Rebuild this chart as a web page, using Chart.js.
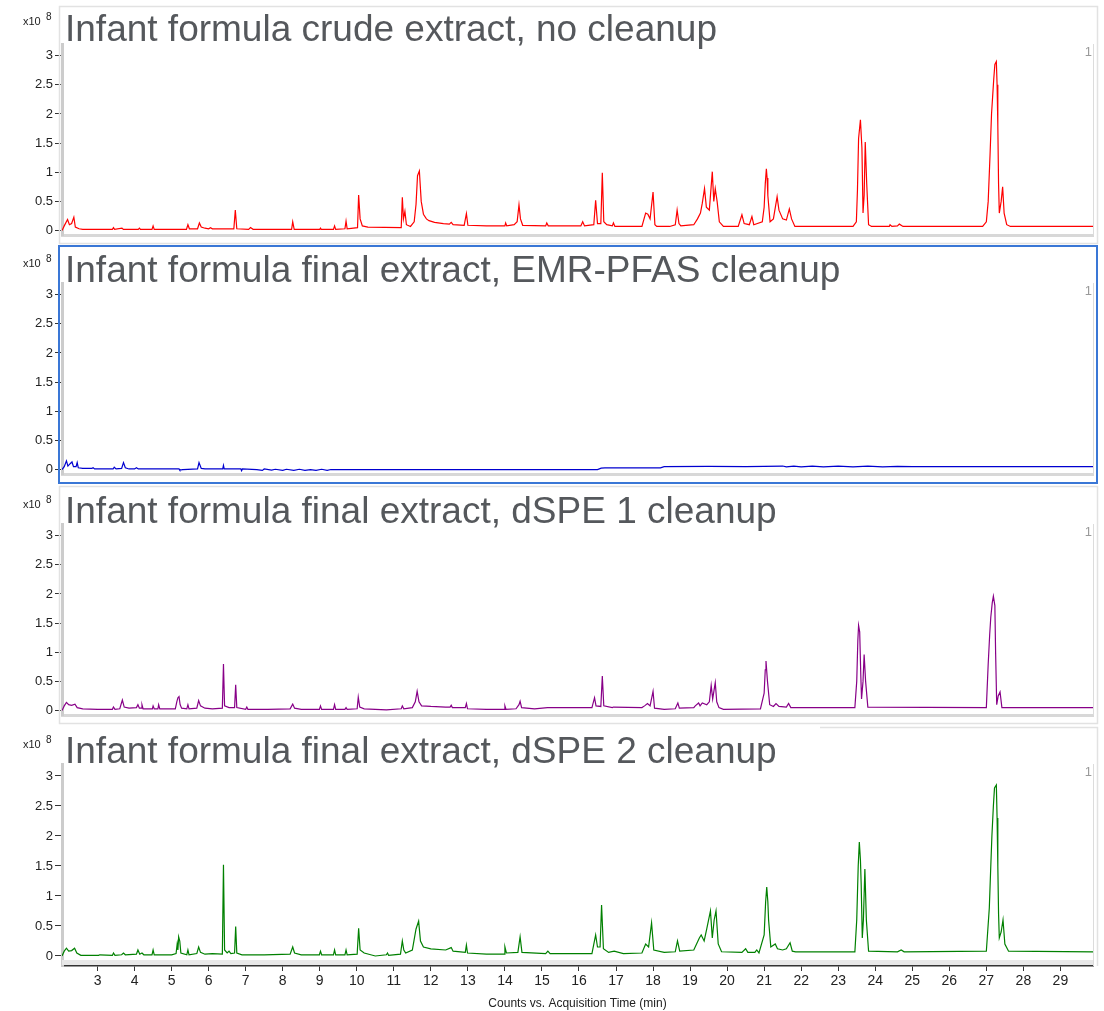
<!DOCTYPE html>
<html><head><meta charset="utf-8">
<script src="https://cdn.jsdelivr.net/npm/chart.js@4.4.0/dist/chart.umd.min.js"></script>
<style>
html,body{margin:0;padding:0;background:#fff;width:1104px;height:1011px;overflow:hidden;}
.pan{position:absolute;left:0;width:1104px;}
</style></head><body>
<div class="pan" style="top:0px;height:245px"><canvas id="c0"></canvas></div>
<div class="pan" style="top:239px;height:245px"><canvas id="c1"></canvas></div>
<div class="pan" style="top:480px;height:245px"><canvas id="c2"></canvas></div>
<div class="pan" style="top:720px;height:291px"><canvas id="c3"></canvas></div>
<script>
// ---- data (time in min, intensity in x10^8 counts) ----
const timeTicks = [3,4,5,6,7,8,9,10,11,12,13,14,15,16,17,18,19,20,21,22,23,24,25,26,27,28,29];
const intensityTicks = [0,0.5,1,1.5,2,2.5,3];
const panelTitles = [
  "Infant formula crude extract, no cleanup",
  "Infant formula final extract, EMR-PFAS cleanup",
  "Infant formula final extract, dSPE 1 cleanup",
  "Infant formula final extract, dSPE 2 cleanup"
];
const axisTitle = "Counts vs. Acquisition Time (min)";
const scaleLabel = "x10";
const scaleExp = "8";
const traceNo = "1";

const crude = [[2.04,0.0],[2.1,0.08],[2.19,0.19],[2.24,0.1],[2.3,0.12],[2.36,0.23],[2.4,0.06],[2.5,0.03],[2.6,0.02],[3.4,0.02],[3.43,0.05],[3.46,0.02],[3.66,0.04],[3.7,0.02],[4.1,0.02],[4.13,0.04],[4.16,0.02],[4.47,0.02],[4.5,0.08],[4.53,0.02],[5.4,0.02],[5.44,0.1],[5.48,0.03],[5.7,0.03],[5.75,0.13],[5.8,0.06],[5.9,0.04],[6.0,0.03],[6.05,0.05],[6.1,0.03],[6.68,0.03],[6.72,0.35],[6.76,0.03],[7.08,0.02],[7.13,0.05],[7.2,0.02],[8.24,0.02],[8.27,0.15],[8.31,0.02],[9.0,0.02],[9.02,0.04],[9.04,0.02],[9.37,0.02],[9.4,0.08],[9.43,0.02],[9.68,0.03],[9.71,0.16],[9.74,0.03],[10.02,0.05],[10.05,0.61],[10.09,0.2],[10.15,0.08],[10.3,0.06],[11.2,0.05],[11.23,0.57],[11.26,0.2],[11.3,0.33],[11.34,0.1],[11.45,0.07],[11.55,0.15],[11.6,0.45],[11.64,0.94],[11.69,1.02],[11.74,0.5],[11.8,0.28],[11.88,0.2],[11.95,0.17],[12.1,0.14],[12.34,0.12],[12.5,0.11],[12.55,0.14],[12.6,0.1],[12.9,0.09],[12.96,0.29],[13.0,0.09],[13.5,0.08],[14.0,0.08],[14.02,0.13],[14.05,0.08],[14.25,0.1],[14.33,0.15],[14.38,0.44],[14.42,0.2],[14.48,0.09],[15.1,0.08],[15.13,0.13],[15.17,0.08],[16.05,0.08],[16.1,0.15],[16.15,0.08],[16.4,0.1],[16.45,0.52],[16.5,0.12],[16.59,0.12],[16.63,0.99],[16.67,0.15],[16.75,0.1],[16.9,0.08],[16.93,0.13],[16.97,0.07],[17.7,0.07],[17.8,0.3],[17.86,0.28],[17.92,0.2],[18.0,0.66],[18.05,0.1],[18.1,0.07],[18.45,0.07],[18.6,0.1],[18.65,0.35],[18.7,0.12],[18.75,0.08],[19.1,0.1],[19.2,0.2],[19.28,0.3],[19.33,0.47],[19.39,0.72],[19.44,0.4],[19.52,0.35],[19.6,1.01],[19.64,0.5],[19.68,0.72],[19.73,0.5],[19.79,0.15],[19.9,0.07],[20.3,0.07],[20.4,0.27],[20.46,0.12],[20.6,0.1],[20.67,0.24],[20.72,0.1],[20.95,0.15],[21.0,0.4],[21.03,0.8],[21.06,1.06],[21.08,0.9],[21.1,0.6],[21.16,0.15],[21.25,0.2],[21.35,0.58],[21.4,0.35],[21.5,0.2],[21.6,0.18],[21.68,0.37],[21.74,0.2],[21.83,0.07],[23.4,0.07],[23.49,0.15],[23.52,0.7],[23.55,1.58],[23.6,1.9],[23.64,1.42],[23.67,0.3],[23.7,0.6],[23.73,1.52],[23.77,0.8],[23.82,0.1],[23.9,0.07],[24.38,0.07],[24.4,0.1],[24.45,0.07],[24.6,0.08],[24.65,0.11],[24.75,0.07],[26.9,0.07],[27.0,0.15],[27.05,0.5],[27.1,1.3],[27.14,2.0],[27.17,2.3],[27.2,2.6],[27.23,2.85],[27.27,2.9],[27.29,2.5],[27.31,1.8],[27.33,0.8],[27.35,0.3],[27.4,0.5],[27.44,0.75],[27.48,0.3],[27.55,0.1],[27.65,0.07],[29.9,0.07]];

const emr = [[2.04,0.0],[2.1,0.05],[2.16,0.15],[2.2,0.06],[2.26,0.1],[2.31,0.13],[2.35,0.05],[2.42,0.05],[2.45,0.12],[2.48,0.03],[2.6,0.02],[2.85,0.02],[2.88,0.03],[2.92,0.01],[3.42,0.01],[3.45,0.04],[3.5,0.01],[3.65,0.02],[3.7,0.12],[3.75,0.03],[3.85,0.01],[4.0,0.01],[4.05,0.03],[4.1,0.01],[5.2,0.01],[5.22,-0.01],[5.3,0.0],[5.7,0.01],[5.74,0.12],[5.8,0.02],[5.9,0.01],[6.38,0.01],[6.4,0.07],[6.42,0.01],[6.87,0.01],[6.89,-0.02],[6.91,0.01],[7.3,0.0],[7.45,-0.015],[7.5,0.01],[7.7,-0.01],[7.8,0.005],[8.0,-0.015],[8.1,0.005],[8.3,-0.015],[8.45,0.005],[8.6,-0.015],[8.75,0.0],[8.9,-0.015],[9.05,0.005],[9.2,-0.015],[9.3,0.0],[16.5,0.0],[16.6,0.025],[16.7,0.03],[18.2,0.03],[18.3,0.05],[19.5,0.055],[20.5,0.05],[21.5,0.06],[21.6,0.045],[21.8,0.06],[22.0,0.045],[22.3,0.06],[22.6,0.045],[23.0,0.06],[23.4,0.045],[23.8,0.06],[24.2,0.045],[24.6,0.055],[25.0,0.05],[29.9,0.05]];

const dspe1 = [[2.04,0.0],[2.1,0.08],[2.16,0.14],[2.22,0.1],[2.3,0.09],[2.39,0.11],[2.45,0.05],[2.6,0.03],[3.0,0.02],[3.4,0.02],[3.43,0.06],[3.47,0.02],[3.6,0.03],[3.67,0.18],[3.72,0.06],[3.85,0.04],[4.05,0.05],[4.09,0.1],[4.13,0.04],[4.18,0.04],[4.2,0.1],[4.23,0.03],[4.48,0.03],[4.5,0.08],[4.53,0.03],[4.63,0.03],[4.65,0.1],[4.68,0.03],[5.1,0.03],[5.14,0.15],[5.17,0.22],[5.2,0.24],[5.23,0.1],[5.27,0.04],[5.41,0.03],[5.44,0.1],[5.47,0.03],[5.68,0.04],[5.73,0.17],[5.78,0.08],[5.9,0.04],[6.1,0.03],[6.37,0.04],[6.4,0.8],[6.43,0.08],[6.55,0.05],[6.7,0.05],[6.73,0.44],[6.76,0.05],[7.0,0.02],[7.03,0.06],[7.06,0.02],[7.6,0.02],[8.2,0.03],[8.27,0.11],[8.32,0.04],[8.5,0.02],[8.99,0.02],[9.02,0.08],[9.05,0.02],[9.37,0.02],[9.4,0.1],[9.43,0.02],[9.68,0.02],[9.71,0.05],[9.74,0.02],[10.01,0.03],[10.04,0.23],[10.08,0.06],[10.2,0.03],[10.8,0.01],[11.2,0.03],[11.23,0.08],[11.27,0.03],[11.5,0.05],[11.58,0.15],[11.63,0.33],[11.68,0.15],[11.75,0.08],[12.0,0.07],[12.4,0.06],[12.52,0.06],[12.55,0.09],[12.58,0.05],[12.93,0.05],[12.96,0.12],[12.99,0.03],[13.5,0.02],[13.98,0.02],[14.0,0.08],[14.03,0.02],[14.3,0.03],[14.38,0.1],[14.41,0.16],[14.45,0.05],[14.8,0.03],[15.15,0.05],[16.35,0.05],[16.42,0.22],[16.46,0.08],[16.59,0.07],[16.63,0.59],[16.67,0.08],[16.9,0.05],[16.93,0.06],[17.7,0.05],[17.77,0.08],[17.85,0.12],[17.92,0.08],[18.0,0.33],[18.04,0.04],[18.3,0.02],[18.6,0.03],[18.67,0.13],[18.71,0.04],[19.1,0.05],[19.14,0.08],[19.23,0.13],[19.27,0.08],[19.33,0.13],[19.45,0.1],[19.52,0.15],[19.57,0.43],[19.61,0.2],[19.68,0.48],[19.72,0.15],[19.78,0.05],[19.9,0.02],[20.9,0.03],[21.0,0.3],[21.03,0.7],[21.05,0.85],[21.09,0.5],[21.15,0.1],[21.25,0.07],[21.32,0.12],[21.4,0.07],[21.6,0.06],[21.66,0.12],[21.72,0.05],[23.45,0.05],[23.5,0.5],[23.53,1.2],[23.55,1.46],[23.58,1.35],[23.61,0.6],[23.63,0.2],[23.67,0.5],[23.7,0.96],[23.74,0.5],[23.8,0.06],[27.0,0.05],[27.05,0.8],[27.09,1.3],[27.12,1.6],[27.16,1.85],[27.19,1.96],[27.23,1.8],[27.25,1.0],[27.28,0.1],[27.32,0.25],[27.37,0.32],[27.42,0.05],[29.9,0.05]];

const dspe2 = [[2.04,0.0],[2.1,0.08],[2.16,0.13],[2.22,0.08],[2.3,0.09],[2.38,0.13],[2.44,0.05],[2.55,0.01],[3.03,0.01],[3.06,0.02],[3.4,0.01],[3.43,0.05],[3.47,0.01],[3.65,0.02],[3.7,0.05],[3.75,0.02],[4.05,0.03],[4.09,0.1],[4.14,0.03],[4.2,0.05],[4.25,0.02],[4.47,0.02],[4.5,0.1],[4.53,0.02],[5.0,0.02],[5.12,0.04],[5.15,0.2],[5.17,0.1],[5.19,0.32],[5.22,0.25],[5.25,0.05],[5.41,0.02],[5.44,0.1],[5.47,0.02],[5.68,0.04],[5.73,0.15],[5.78,0.06],[5.9,0.03],[6.1,0.04],[6.37,0.03],[6.4,1.52],[6.43,0.1],[6.5,0.05],[6.55,0.08],[6.6,0.04],[6.7,0.05],[6.73,0.49],[6.76,0.05],[6.9,0.02],[7.5,0.02],[8.2,0.03],[8.27,0.15],[8.32,0.05],[8.5,0.02],[8.99,0.02],[9.02,0.08],[9.05,0.02],[9.37,0.02],[9.4,0.1],[9.43,0.02],[9.68,0.02],[9.71,0.1],[9.74,0.02],[10.01,0.03],[10.05,0.46],[10.09,0.1],[10.2,0.05],[10.5,0.0],[10.8,0.02],[10.83,0.05],[10.86,0.01],[11.18,0.03],[11.23,0.25],[11.27,0.1],[11.32,0.05],[11.5,0.1],[11.6,0.45],[11.67,0.58],[11.72,0.25],[11.8,0.15],[12.0,0.12],[12.4,0.1],[12.55,0.14],[12.6,0.08],[12.93,0.06],[12.96,0.18],[12.99,0.05],[13.5,0.03],[13.98,0.03],[14.0,0.15],[14.04,0.05],[14.35,0.06],[14.41,0.32],[14.46,0.06],[15.1,0.04],[15.16,0.08],[15.22,0.04],[16.35,0.04],[16.45,0.35],[16.5,0.15],[16.57,0.15],[16.61,0.85],[16.66,0.12],[16.8,0.06],[16.95,0.08],[17.2,0.04],[17.7,0.05],[17.8,0.2],[17.88,0.15],[17.96,0.55],[18.02,0.1],[18.3,0.06],[18.6,0.07],[18.66,0.25],[18.72,0.08],[19.1,0.1],[19.25,0.3],[19.3,0.35],[19.38,0.25],[19.45,0.45],[19.55,0.75],[19.6,0.3],[19.65,0.6],[19.7,0.75],[19.76,0.2],[19.85,0.07],[20.4,0.06],[20.5,0.12],[20.56,0.06],[20.75,0.06],[20.8,0.1],[20.86,0.05],[21.0,0.35],[21.04,0.9],[21.07,1.15],[21.1,0.9],[21.12,0.6],[21.18,0.15],[21.3,0.2],[21.36,0.12],[21.5,0.1],[21.6,0.12],[21.7,0.22],[21.76,0.08],[21.85,0.07],[23.45,0.07],[23.5,0.6],[23.54,1.5],[23.57,1.9],[23.6,1.6],[23.62,1.2],[23.65,0.3],[23.68,0.6],[23.72,1.45],[23.76,0.6],[23.82,0.08],[24.6,0.07],[24.7,0.1],[24.78,0.07],[27.0,0.08],[27.08,0.8],[27.12,1.5],[27.15,2.0],[27.19,2.5],[27.22,2.8],[27.27,2.85],[27.29,2.3],[27.31,1.5],[27.33,0.7],[27.35,0.3],[27.4,0.4],[27.45,0.6],[27.5,0.2],[27.6,0.08],[29.9,0.07]];

const seriesList = [crude, emr, dspe1, dspe2];
const seriesColors = ["#ff0000", "#0000d0", "#880088", "#008000"];

// ---- styling / layout ----
const NARROW = "'Liberation Sans Narrow','Liberation Sans',Arial,sans-serif";
const SANS = "'Liberation Sans',Arial,sans-serif";

const decoPlugin = {
  id: 'deco',
  afterDraw(chart, args, opts) {
    const ctx = chart.ctx, ca = chart.chartArea;
    ctx.save();
    if (opts.frame === 'blue') {
      ctx.strokeStyle = '#3a77d6'; ctx.lineWidth = 2;
      ctx.strokeRect(59, 7, 1038, 237);
    } else if (opts.frame === 'gray') {
      ctx.strokeStyle = '#e2e2e2'; ctx.lineWidth = 1.5;
      ctx.strokeRect(59.5, 6.5, 1038, 237);
    } else if (opts.frame === 'last') {
      ctx.strokeStyle = '#e2e2e2'; ctx.lineWidth = 1.5;
      ctx.beginPath(); ctx.moveTo(820, 7.5); ctx.lineTo(1097.5, 7.5); ctx.lineTo(1097.5, ca.bottom); ctx.stroke();
    }
    ctx.strokeStyle = '#dcdcdc'; ctx.lineWidth = 1;
    ctx.beginPath(); ctx.moveTo(ca.right + 0.5, ca.top); ctx.lineTo(ca.right + 0.5, ca.bottom); ctx.stroke();
    if (opts.band) {
      ctx.fillStyle = '#e8e8e8';
      ctx.fillRect(ca.left, ca.bottom - 6, ca.right - ca.left, 5);
    }
    ctx.fillStyle = '#55585c';
    ctx.font = '37px ' + SANS;
    ctx.textBaseline = 'alphabetic'; ctx.textAlign = 'left';
    ctx.fillText(opts.title, 65, opts.titleY);
    ctx.fillStyle = '#222';
    ctx.font = '11px ' + NARROW;
    ctx.fillText(scaleLabel, 23, opts.expY);
    ctx.font = '10px ' + NARROW;
    ctx.fillText(scaleExp, 46, opts.expY - 5);
    ctx.fillStyle = '#9a9a9a';
    ctx.font = '13px ' + SANS;
    ctx.textAlign = 'right';
    ctx.fillText(traceNo, 1092, 56);
    ctx.restore();
  }
};

function makePanel(i) {
  const last = i === 3;
  const ymin = last ? -0.167 : -0.08;
  const frame = i === 1 ? 'blue' : (last ? 'last' : 'gray');
  new Chart(document.getElementById('c' + i), {
    type: 'line',
    data: {
      datasets: [{
        data: seriesList[i].map(p => ({ x: p[0], y: p[1] })),
        borderColor: seriesColors[i], borderWidth: 1.2,
        pointRadius: 0, tension: 0, fill: false
      }]
    },
    options: {
      responsive: true, maintainAspectRatio: false, animation: false,
      devicePixelRatio: 1,
      layout: { padding: { top: 44, right: 11, bottom: 0, left: 0 } },
      events: [],
      plugins: {
        legend: { display: false }, tooltip: { enabled: false },
        deco: { title: panelTitles[i], frame: frame, band: last, titleY: i === 0 ? 41 : 43, expY: i === 0 ? 25 : 28 }
      },
      scales: {
        x: {
          type: 'linear', min: 2.04, max: 29.88,
          afterBuildTicks: s => { s.ticks = timeTicks.map(v => ({ value: v })); },
          afterFit: s => { s.height = last ? 45 : 4; },
          ticks: { display: last, autoSkip: false, maxRotation: 0, padding: 2, color: '#222', font: { family: NARROW, size: 14 } },
          grid: { display: last, drawOnChartArea: false, tickLength: 5, color: '#333', lineWidth: 1 },
          border: { display: true, color: last ? '#333' : '#d8d8d8', width: last ? 1.5 : 3 },
          title: { display: last, text: axisTitle, color: '#222', font: { family: NARROW, size: 12 }, padding: { top: 2, bottom: 0 } }
        },
        y: {
          min: ymin, max: 3.2,
          afterBuildTicks: s => { s.ticks = intensityTicks.map(v => ({ value: v })); },
          afterFit: s => { s.width = 62; },
          ticks: { autoSkip: false, padding: 2, color: '#222', font: { family: NARROW, size: 13 }, callback: v => String(Number(v)) },
          grid: { display: true, drawOnChartArea: false, tickLength: 7, color: '#333', lineWidth: 1 },
          border: { display: true, color: '#cccccc', width: 3 }
        }
      }
    },
    plugins: [decoPlugin]
  });
}
for (let i = 0; i < 4; i++) makePanel(i);
</script>
</body></html>
